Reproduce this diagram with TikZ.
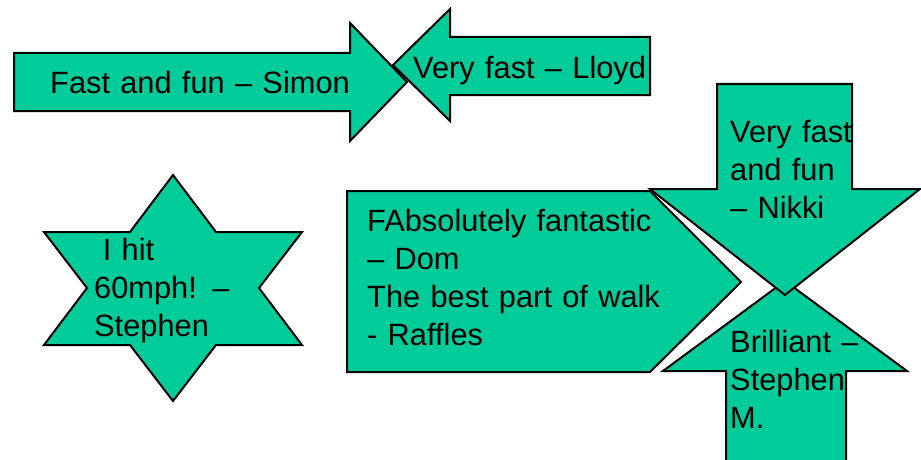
\documentclass[tikz,border=0pt]{standalone}
\usepackage{fontspec}
\setmainfont{Liberation Sans}
\definecolor{sea}{RGB}{0,204,153}
\tikzset{
  shp/.style={draw=black, fill=sea, line width=2pt, line join=miter},
  txt/.style={anchor=base west, inner sep=0pt, align=left, text width=340pt,
    font=\fontsize{30.8}{38}\selectfont}
}

\begin{document}
\begin{tikzpicture}[x=1pt, y=-1pt]
        \useasboundingbox (0,0) rectangle (921,460);
        \draw[shp] (14,53) -- (350,53) -- (350,23) -- (407,82) -- (350,141) -- (350,111) -- (14,111) -- cycle;
        \node[txt] (simon) at (50,93) {Fast and fun – Simon};
        \draw[shp] (650,37) -- (450,37) -- (450,9) -- (393,65) -- (450,121) -- (450,95) -- (650,95) -- cycle;
        \node[txt] (lloyd) at (413,78) {Very fast – Lloyd};
        \draw[shp] (173,175) -- (216,232) -- (302,232) -- (259,288) -- (302,345) -- (216,345) -- (173,401)
            -- (130,345) -- (44,345) -- (87,288) -- (44,232) -- (130,232) -- cycle;
        \node[txt] (stephen) at (94,260) {\hspace*{0.28em}I hit\\60mph! –\\Stephen};
        \draw[shp] (347,191) -- (650,191) -- (741,282) -- (650,372) -- (347,372) -- cycle;
        \node[txt] (dom) at (367,231) {FAbsolutely fantastic\\– Dom\\The best part of walk\\- Raffles};
        \draw[shp] (726,475) -- (726,371) -- (663,371) -- (785,281) -- (907,371) -- (846,371) -- (846,475) -- cycle;
        \node[txt] (brill) at (730,352) {Brilliant –\\Stephen\\M.};
        \draw[shp] (717,84) -- (852,84) -- (852,189) -- (920,189) -- (785,295) -- (650,189) -- (717,189) -- cycle;
        \node[txt] (nikki) at (730,142) {Very fast\\and fun\\– Nikki};
\end{tikzpicture}
\end{document}
